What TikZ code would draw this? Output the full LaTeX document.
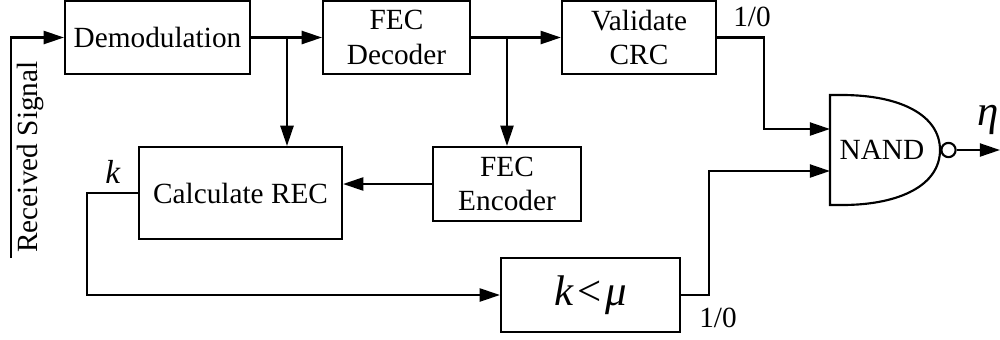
\documentclass[tikz,border=0pt]{standalone}
\usepackage{fontspec}
\setmainfont{Liberation Serif}
\usetikzlibrary{arrows.meta}

\tikzset{
  blk/.style={draw, line width=0.9pt, inner sep=0pt, align=center, font=\fontsize{12.3}{14.5}\selectfont},
  lbl/.style={font=\fontsize{12.3}{14}\selectfont},
  wire/.style={line width=0.9pt, -{Triangle[length=8.5pt, width=5.5pt]}},
}

\begin{document}
\begin{tikzpicture}[x=0.42pt, y=-0.42pt]
        \useasboundingbox (0, 0) rectangle (1000, 339);

        % blocks
        \node[blk, minimum width=77.7pt, minimum height=30.7pt] (demod) at (157.5, 37.5) {Demodulation};
        \node[blk, minimum width=61.7pt, minimum height=30.7pt] (fecdec) at (396.5, 37.5) {FEC\\Decoder};
        \node[blk, minimum width=64.7pt, minimum height=30.7pt] (crc) at (639, 37.5) {Validate\\CRC};
        \node[blk, minimum width=85.3pt, minimum height=38.6pt] (rec) at (240.5, 193) {Calculate REC};
        \node[blk, minimum width=62.2pt, minimum height=31.1pt] (fecenc) at (507, 184) {FEC\\Encoder};
        \node[blk, minimum width=75.2pt, minimum height=31.1pt, font=\fontsize{18}{20}\selectfont] (cmp) at (590.5, 295)
            {\textit{k}\kern1.5pt<\kern1.5pt\textit{μ}};

        % NAND gate
        \draw[line width=0.9pt] (830, 95) -- (842, 95) .. controls (900, 95) and (940, 115) .. (940, 150)
            .. controls (940, 185) and (900, 205) .. (842, 205) -- (830, 205) -- cycle;
        \node[lbl] (nand) at (882, 150) {NAND};
        \node[draw, line width=0.9pt, circle, minimum size=6pt, inner sep=0pt] (bub) at (948.5, 150) {};
        \coordinate (in1) at (830, 129);
        \coordinate (in2) at (830, 171);
        \coordinate (out) at (1000, 150);

        % input
        \coordinate (rs) at (11, 258);
        \node[lbl, rotate=90] (rslbl) at (30, 157) {Received Signal};
        \draw[wire] (rs) |- (demod.west);

        % top chain
        \coordinate (b1) at (287, 37.5);
        \coordinate (b2) at (507, 37.5);
        \draw[wire] (demod.east) -- (fecdec.west);
        \draw[wire] (fecdec.east) -- (crc.west);
        \draw[wire] (b1) -- (b1 |- rec.north);
        \draw[wire] (b2) -- (fecenc.north);
        \draw[wire] (fecenc.west) -- (fecenc.west -| rec.east);

        % feedback to comparison
        \draw[wire] (rec.west) -- ++(-51, 0) |- (cmp.west);
        \node[lbl, font=\fontsize{14}{16}\selectfont] (k) at (113, 172) {\textit{k}};

        % to the gate
        \draw[wire] (crc.east) -- (764, 37.5) |- (in1);
        \draw[wire] (cmp.east) -- (709, 295) |- (in2);
        \node[lbl] (one1) at (752, 17) {1/0};
        \node[lbl] (one2) at (718, 318) {1/0};

        % output
        \draw[wire] (bub.east) -- (out);
        \node[lbl, font=\fontsize{18}{20}\selectfont] (eta) at (988, 120) {\textit{η}};
    \end{tikzpicture}
\end{document}
